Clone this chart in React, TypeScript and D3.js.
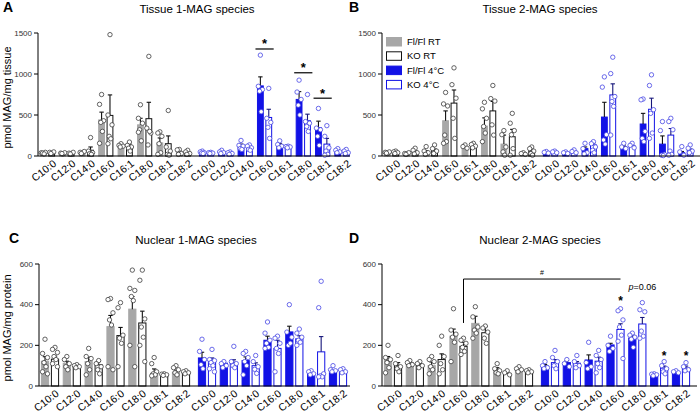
import React from "react";
import * as d3 from "d3";

// categories
const tissueLipids = ["C10:0", "C12:0", "C14:0", "C16:0", "C16:1", "C18:0", "C18:1", "C18:2"];
const nuclearLipids = ["C10:0", "C12:0", "C14:0", "C16:0", "C18:0", "C18:1", "C18:2"];
const groupNames = ["Fl/Fl RT", "KO RT", "Fl/Fl 4°C", "KO 4°C"];

// Tissue 1-MAG (rows: Fl/Fl RT, KO RT, Fl/Fl 4°C, KO 4°C)
const tissue1Means = [
  [35, 30, 40, 440, 125, 380, 160, 50],
  [40, 30, 70, 495, 115, 455, 150, 45],
  [50, 50, 120, 855, 135, 690, 345, 60],
  [40, 35, 105, 470, 120, 430, 145, 50],
];
const tissue1Sems = [
  [5, 4, 6, 95, 10, 80, 60, 12],
  [6, 5, 40, 250, 30, 200, 95, 10],
  [8, 10, 25, 110, 15, 95, 80, 12],
  [6, 8, 20, 100, 8, 80, 70, 10],
];
const tissue1Points = [
  [[30, 40, 45, 35, 25], [25, 35, 40, 30], [35, 45, 55, 30], [750, 630, 430, 410, 300, 155], [150, 130, 120, 110], [625, 460, 400, 320, 185, 290], [295, 280, 240, 150, 40, 20], [80, 75, 30, 20]],
  [[35, 45, 50, 30], [20, 35, 45, 25], [225, 60, 40, 30, 20], [1480, 500, 380, 240, 210, 150], [170, 130, 110, 95, 60], [1215, 340, 280, 135, 300], [555, 110, 60, 20, 10], [70, 50, 30, 20]],
  [[60, 50, 40, 35, 30], [70, 50, 40, 30], [190, 130, 120, 90, 80], [1230, 850, 810, 790, 540], [185, 140, 120, 100], [925, 780, 690, 620, 500], [580, 340, 320, 240, 130], [90, 70, 50, 40]],
  [[45, 40, 35, 30], [50, 40, 30, 20], [135, 120, 100, 80, 70], [825, 460, 410, 350, 215], [120, 115, 110, 100], [750, 420, 400, 360, 300], [370, 240, 100, 60, 20, 10], [80, 60, 40, 30]],
];
const tissue1Sig = [
  { lipid: "C16:0", value: 1305 },
  { lipid: "C18:0", value: 1015 },
  { lipid: "C18:1", value: 705 },
];

// Tissue 2-MAG
const tissue2Means = [
  [40, 30, 50, 430, 110, 365, 145, 30],
  [45, 50, 65, 645, 115, 550, 235, 55],
  [45, 40, 90, 475, 110, 390, 145, 40],
  [50, 55, 135, 745, 125, 570, 255, 70],
];
const tissue2Sems = [
  [5, 5, 15, 120, 8, 100, 110, 8],
  [6, 12, 20, 160, 10, 115, 90, 15],
  [6, 6, 20, 180, 12, 130, 100, 15],
  [7, 8, 25, 135, 10, 135, 80, 15],
];
const tissue2Points = [
  [[30, 45, 50, 35], [25, 30, 40, 20], [115, 60, 40, 20], [775, 635, 610, 255, 175, 155], [135, 115, 95], [655, 575, 460, 360, 280, 175], [310, 260, 110, 50, 10], [40, 30, 20]],
  [[60, 50, 40, 30], [95, 70, 40, 25], [135, 90, 60, 30], [1075, 870, 705, 460, 215], [155, 140, 120, 100], [860, 700, 670, 380, 255], [520, 400, 310, 260, 90, 10], [110, 90, 60, 30, 10]],
  [[55, 45, 35], [50, 40, 30], [155, 90, 40, 25], [965, 840, 260, 195, 145], [155, 110, 90], [695, 685, 300, 215, 175], [420, 310, 20, 10, 5], [115, 50, 10]],
  [[60, 50, 40], [75, 55, 40], [175, 150, 110, 70, 40], [1205, 1005, 725, 665, 605, 255], [155, 130, 100], [990, 860, 565, 520, 280, 215], [460, 420, 320, 60, 20, 10], [135, 95, 60, 40]],
];

// Nuclear 1-MAG
const nuclear1Means = [
  [122, 112, 120, 292, 378, 62, 68],
  [132, 95, 104, 248, 310, 57, 66],
  [138, 112, 125, 225, 266, 57, 65],
  [128, 115, 100, 185, 232, 168, 66],
];
const nuclear1Sems = [
  [22, 10, 22, 55, 62, 22, 10],
  [15, 4, 18, 40, 58, 3, 5],
  [28, 6, 18, 20, 28, 6, 8],
  [10, 14, 14, 40, 15, 75, 5],
];
const nuclear1Points = [
  [[230, 160, 140, 115, 95, 70, 60], [145, 130, 110, 95, 80], [185, 145, 135, 110, 80, 55], [430, 425, 360, 325, 300, 95, 80], [570, 480, 470, 440, 420, 200, 95], [140, 110, 70, 60, 55, 50], [100, 90, 80, 65, 55]],
  [[190, 180, 165, 145, 130, 110, 95], [105, 100, 95, 90], [125, 110, 95, 80, 60], [410, 385, 250, 235, 210, 95], [570, 520, 330, 290, 240, 200, 120], [60, 58, 55, 52], [75, 70, 65, 60]],
  [[230, 170, 130, 105, 85], [120, 110, 100, 90], [170, 160, 140, 120, 100, 55], [315, 260, 225, 210, 190, 185], [400, 265, 240, 200, 210], [75, 70, 60, 55], [100, 80, 75, 70]],
  [[180, 130, 125, 115, 100, 85, 70], [195, 120, 110, 100, 90], [150, 120, 95, 82, 62], [245, 235, 210, 185, 160, 70], [280, 260, 240, 225, 215, 200], [515, 385, 60, 50, 45, 45], [85, 80, 70, 65]],
];

// Nuclear 2-MAG
const nuclear2Means = [
  [130, 115, 100, 245, 308, 78, 80],
  [100, 102, 130, 195, 262, 62, 70],
  [98, 115, 128, 202, 236, 55, 65],
  [115, 112, 122, 278, 305, 88, 88],
];
const nuclear2Sems = [
  [15, 6, 18, 35, 35, 12, 8],
  [15, 8, 28, 20, 30, 6, 5],
  [8, 10, 25, 8, 15, 3, 4],
  [15, 8, 20, 28, 32, 10, 10],
];
const nuclear2Points = [
  [[200, 140, 130, 115, 90, 65], [125, 115, 105, 100], [145, 130, 120, 95, 80, 60], [380, 275, 255, 240, 215, 120], [390, 340, 290, 275, 260, 235], [110, 85, 75, 65, 60], [95, 85, 80, 70]],
  [[150, 110, 95, 85, 70], [120, 110, 100, 90], [245, 200, 145, 110, 80, 60], [235, 225, 210, 190, 170, 155], [295, 285, 265, 235, 210], [75, 65, 55], [80, 75, 70, 65]],
  [[120, 100, 90, 85], [130, 110, 95], [215, 115, 95, 85], [245, 200, 185, 170], [260, 250, 240, 230, 190], [60, 58, 55, 50], [75, 70, 65]],
  [[175, 140, 120, 100, 85], [150, 120, 100, 90], [175, 150, 130, 110, 90, 65], [380, 370, 325, 290, 250, 220, 135], [410, 375, 365, 270, 245, 235], [120, 100, 85, 70, 60], [115, 95, 80, 75]],
];
const nuclear2Stars = [
  { lipid: "C16:0", value: 433 },
  { lipid: "C18:1", value: 162 },
  { lipid: "C18:2", value: 162 },
];
const nuclear2PLabel = { lipid: "C18:0", value: 487 };
const nuclear2Bracket = { lipid: "C16:0", top: 526, drop: 310 };

const FONT = "'Liberation Sans', Arial, Helvetica, sans-serif";
const BLUE = "#1212e6";
const GRAY = "#a7a7a7";

const groupStyle = [
  { fill: GRAY, stroke: GRAY, dot: "#3c3c3c", err: "#111" },
  { fill: "#fff", stroke: "#111", dot: "#3c3c3c", err: "#111" },
  { fill: BLUE, stroke: BLUE, dot: "#4646e4", err: "#111" },
  { fill: "#fff", stroke: BLUE, dot: "#4646e4", err: "#16167a" },
];

const jitter = [0, -0.3, 0.3, -0.12, 0.12, -0.3, 0.3];

function Panel({ cfg }: { cfg: any }) {
  const y = d3.scaleLinear().domain([0, cfg.max]).range([cfg.y0, cfg.yTop]);
  const halves = [
    d3.scalePoint().domain(cfg.lipids).range([cfg.x0 + cfg.pairs[0], cfg.x0 + cfg.pairs[1]]),
    d3.scalePoint().domain(cfg.lipids).range([cfg.x0 + cfg.pairs[2], cfg.x0 + cfg.pairs[3]]),
  ];
  const barX = (g: number, lipid: string) =>
    (halves[g >> 1](lipid) as number) + (g % 2 === 0 ? -cfg.off : cfg.off);
  const bw = cfg.barW;

  return (
    <g>
      <text x={cfg.letterX} y={cfg.letterY} fontSize={14} fontWeight="bold" fontFamily={FONT}>
        {cfg.letter}
      </text>
      <text x={cfg.titleX} y={cfg.titleY} fontSize={11.5} textAnchor="middle" fontFamily={FONT}>
        {cfg.title}
      </text>
      {cfg.ylabel && (
        <text
          transform={`translate(${cfg.ylabelX},${(cfg.y0 + cfg.yTop) / 2 + 3}) rotate(-90)`}
          fontSize={11}
          textAnchor="middle"
          fontFamily={FONT}
        >
          {cfg.ylabel}
        </text>
      )}

      {/* bars */}
      {cfg.means.map((row: number[], g: number) =>
        row.map((m, i) => {
          const cx = barX(g, cfg.lipids[i]);
          const st = groupStyle[g];
          const top = y(m);
          return (
            <rect
              key={`b${g}-${i}`}
              x={cx - bw / 2 + 0.5}
              y={top}
              width={bw - 1}
              height={cfg.y0 - top}
              fill={st.fill}
              stroke={st.stroke}
              strokeWidth={1}
            />
          );
        })
      )}

      {/* error bars */}
      {cfg.means.map((row: number[], g: number) =>
        row.map((m, i) => {
          const cx = barX(g, cfg.lipids[i]);
          const st = groupStyle[g];
          const top = y(m + cfg.sems[g][i]);
          return (
            <g key={`e${g}-${i}`} stroke={st.err} strokeWidth={1.1}>
              <line x1={cx} x2={cx} y1={y(m)} y2={top} />
              <line x1={cx - 2.2} x2={cx + 2.2} y1={top} y2={top} />
            </g>
          );
        })
      )}

      {/* individual points */}
      {cfg.points.map((row: number[][], g: number) =>
        row.map((pts, i) =>
          pts.map((v, k) => (
            <circle
              key={`p${g}-${i}-${k}`}
              cx={barX(g, cfg.lipids[i]) + jitter[k % jitter.length] * bw}
              cy={y(v)}
              r={2.2}
              fill="#fff"
              stroke={groupStyle[g].dot}
              strokeWidth={0.8}
            />
          ))
        )
      )}

      {/* y axis */}
      <line x1={cfg.x0} x2={cfg.x0} y1={cfg.y0} y2={cfg.yTop} stroke="#000" strokeWidth={1} />
      {cfg.ticks.map((t: number) => (
        <g key={`t${t}`}>
          <line x1={cfg.x0 - 4} x2={cfg.x0} y1={y(t)} y2={y(t)} stroke="#000" strokeWidth={1} />
          <text
            x={cfg.x0 - 6}
            y={y(t)}
            dy="0.33em"
            fontSize={8}
            textAnchor="end"
            fill="#333"
            fontFamily={FONT}
          >
            {t}
          </text>
        </g>
      ))}

      {/* x axis */}
      <line x1={cfg.x0} x2={cfg.x1} y1={cfg.y0} y2={cfg.y0} stroke="#000" strokeWidth={1.2} />
      {halves.map((h, hi) =>
        cfg.lipids.map((l: string) => (
          <text
            key={`x${hi}-${l}`}
            transform={`translate(${(h(l) as number) + 5},${cfg.y0 + 3}) rotate(-38)`}
            fontSize={10.5}
            textAnchor="end"
            fontFamily={FONT}
            dy="0.7em"
          >
            {l}
          </text>
        ))
      )}

      {/* significance lines */}
      {(cfg.sig || []).map((s: any) => {
        const c = halves[1](s.lipid) as number;
        const half = cfg.off + bw / 2 + 1.5;
        return (
          <g key={`s${s.lipid}`}>
            <line x1={c - half} x2={c + half} y1={y(s.value)} y2={y(s.value)} stroke="#000" strokeWidth={1.2} />
            <text x={c} y={y(s.value) - 0.5} fontSize={13} fontWeight="bold" textAnchor="middle" fontFamily={FONT}>
              *
            </text>
          </g>
        );
      })}

      {(cfg.stars || []).map((s: any) => (
        <text
          key={`st${s.lipid}`}
          x={barX(3, s.lipid)}
          y={y(s.value) + 7}
          fontSize={12}
          fontWeight="bold"
          textAnchor="middle"
          fontFamily={FONT}
        >
          *
        </text>
      ))}

      {cfg.pLabel && (
        <text
          x={barX(3, cfg.pLabel.lipid)}
          y={y(cfg.pLabel.value) + 3}
          fontSize={9}
          textAnchor="middle"
          fontFamily={FONT}
        >
          <tspan fontStyle="italic">p</tspan>=0.06
        </text>
      )}

      {cfg.bracket && (() => {
        const xl = barX(1, cfg.bracket.lipid);
        const xr = barX(3, cfg.bracket.lipid);
        const yt = y(cfg.bracket.top);
        return (
          <g>
            <path
              d={`M${xl},${y(cfg.bracket.drop)}V${yt}H${xr}`}
              fill="none"
              stroke="#000"
              strokeWidth={1}
            />
            <text x={(xl + xr) / 2} y={yt - 4} fontSize={7} textAnchor="middle" fontFamily={FONT}>
              #
            </text>
          </g>
        );
      })()}

      {cfg.legend && (
        <g fontFamily={FONT}>
          {groupNames.map((n, g) => (
            <g key={n} transform={`translate(${cfg.x0 + 4},${37 + g * 14.3})`}>
              <rect
                x={0.5}
                y={0.5}
                width={15}
                height={8.5}
                fill={groupStyle[g].fill}
                stroke={groupStyle[g].stroke}
                strokeWidth={1}
              />
              <text x={21} y={8} fontSize={9.5}>
                {n}
              </text>
            </g>
          ))}
        </g>
      )}
    </g>
  );
}

const tissuePairs = [9.5, 145.5, 168.5, 304];
const nuclearPairs = [11, 142, 168, 299];

const panels = [
  {
    letter: "A", letterX: 3, letterY: 12, title: "Tissue 1-MAG species", titleX: 197, titleY: 13,
    ylabel: "pmol MAG/mg tissue", ylabelX: 11,
    x0: 38, x1: 350, y0: 156, yTop: 33, max: 1500, ticks: [0, 500, 1000, 1500],
    lipids: tissueLipids, pairs: tissuePairs, barW: 6.8, off: 4.2,
    means: tissue1Means, sems: tissue1Sems, points: tissue1Points, sig: tissue1Sig,
  },
  {
    letter: "B", letterX: 349, letterY: 12, title: "Tissue 2-MAG species", titleX: 540, titleY: 13,
    x0: 382, x1: 700, y0: 156, yTop: 33, max: 1500, ticks: [0, 500, 1000, 1500],
    lipids: tissueLipids, pairs: tissuePairs, barW: 6.8, off: 4.2,
    means: tissue2Means, sems: tissue2Sems, points: tissue2Points, legend: true,
  },
  {
    letter: "C", letterX: 9, letterY: 243, title: "Nuclear 1-MAG species", titleX: 196, titleY: 244,
    ylabel: "pmol MAG/mg protein", ylabelX: 11,
    x0: 39, x1: 350, y0: 386, yTop: 264, max: 600, ticks: [0, 200, 400, 600],
    lipids: nuclearLipids, pairs: nuclearPairs, barW: 8.2, off: 5,
    means: nuclear1Means, sems: nuclear1Sems, points: nuclear1Points,
  },
  {
    letter: "D", letterX: 349, letterY: 243, title: "Nuclear 2-MAG species", titleX: 540, titleY: 244,
    x0: 382, x1: 697, y0: 386, yTop: 264, max: 600, ticks: [0, 200, 400, 600],
    lipids: nuclearLipids, pairs: nuclearPairs, barW: 8.2, off: 5,
    means: nuclear2Means, sems: nuclear2Sems, points: nuclear2Points,
    stars: nuclear2Stars, pLabel: nuclear2PLabel, bracket: nuclear2Bracket,
  },
];

export default function App() {
  return (
    <svg
      width={700}
      height={415}
      viewBox="0 0 700 415"
      style={{ position: "absolute", left: 0, top: 0, background: "#fff" }}
    >
      <rect width={700} height={415} fill="#fff" />
      {panels.map((p) => (
        <Panel key={p.letter} cfg={p} />
      ))}
    </svg>
  );
}
